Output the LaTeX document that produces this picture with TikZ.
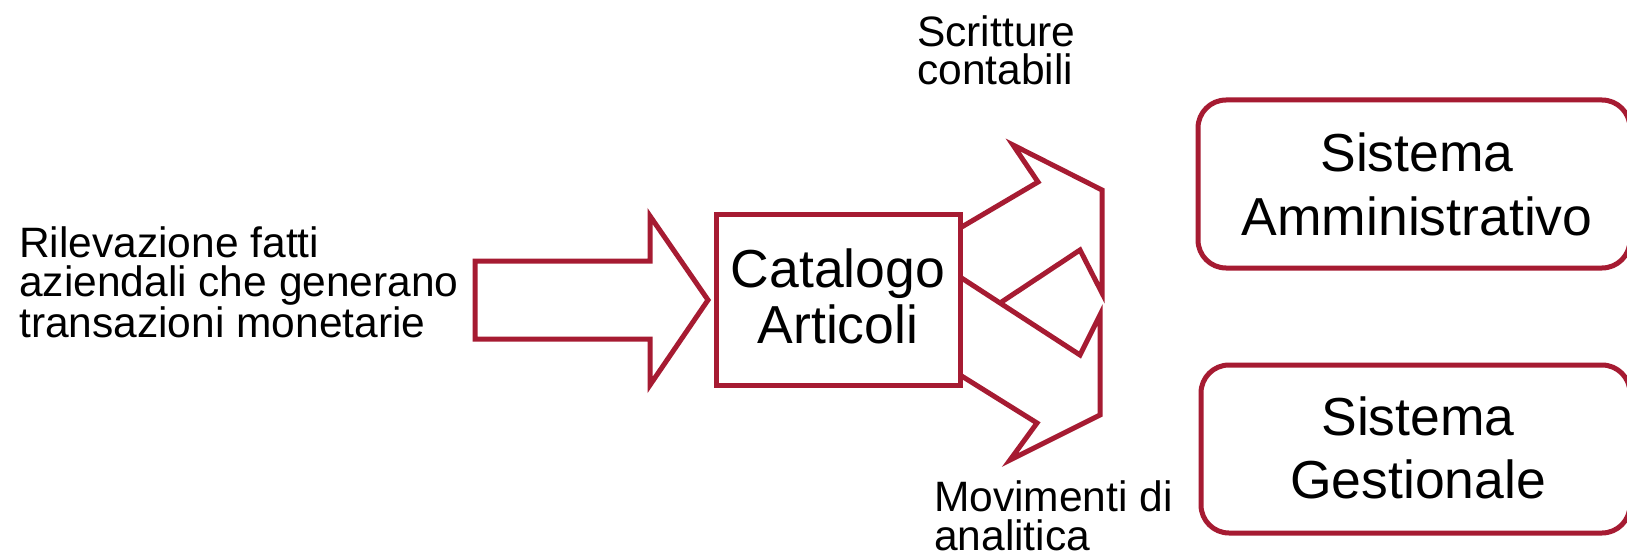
\documentclass[tikz,border=0pt]{standalone}
\usepackage{fontspec}
\setmainfont{Liberation Sans}
\definecolor{crim}{RGB}{166,27,50}
\begin{document}
\begin{tikzpicture}[x=1pt,y=-1pt,
  shapeline/.style={draw=crim,line width=5pt,line join=miter,fill=white},
  small/.style={inner sep=0pt,align=left,font=\fontsize{42.5}{38.5}\selectfont},
  big/.style={inner sep=0pt,align=center,font=\fontsize{53.5}{63}\selectfont},
  sysbox/.style={draw=crim,line width=5pt,rounded corners=28pt}]
\useasboundingbox[fill=white] (0,0) rectangle (1627,556);
% input arrow
\draw[shapeline] (475,261) -- (650,261) -- (650,216) -- (708,300) -- (650,385) -- (650,339) -- (475,339) -- cycle;
% catalogue box
\node[draw=crim,line width=5pt,minimum width=244pt,minimum height=170pt,inner sep=0pt] (cat) at (838,300) {};
\node[big,anchor=base] (cattxt) at (838,343) {Catalogo\\[-7pt]Articoli};
% split arrow
\draw[shapeline,fill=none] (960,228) -- (1038,182) -- (1013,145) -- (1102,190) -- (1102,293) -- (1080,250) -- (1000,303);
\draw[shapeline,fill=none] (960,277) -- (1080,355) -- (1100,315) -- (1100,415) -- (1010,460) -- (1037,423) -- (960,375);
% system boxes
\draw[sysbox] (1198,100) rectangle (1630,268);
\node[inner sep=0pt] (adm) at (1414,184) {};
\node[big,anchor=base] (admtxt) at (1417,235) {Sistema\\Amministrativo};
\draw[sysbox] (1201,365) rectangle (1630,533);
\node[inner sep=0pt] (ges) at (1415,449) {};
\node[big,anchor=base] (gestxt) at (1418,498) {Sistema\\Gestionale};
% labels
\node[small,anchor=base west] (inlbl) at (19,337) {Rilevazione fatti\\aziendali che generano\\transazioni monetarie};
\node[small,anchor=base west] (scr) at (917,85) {Scritture\\contabili};
\node[small,anchor=base west] (mov) at (934,550) {Movimenti di\\analitica};
\end{tikzpicture}
\end{document}
